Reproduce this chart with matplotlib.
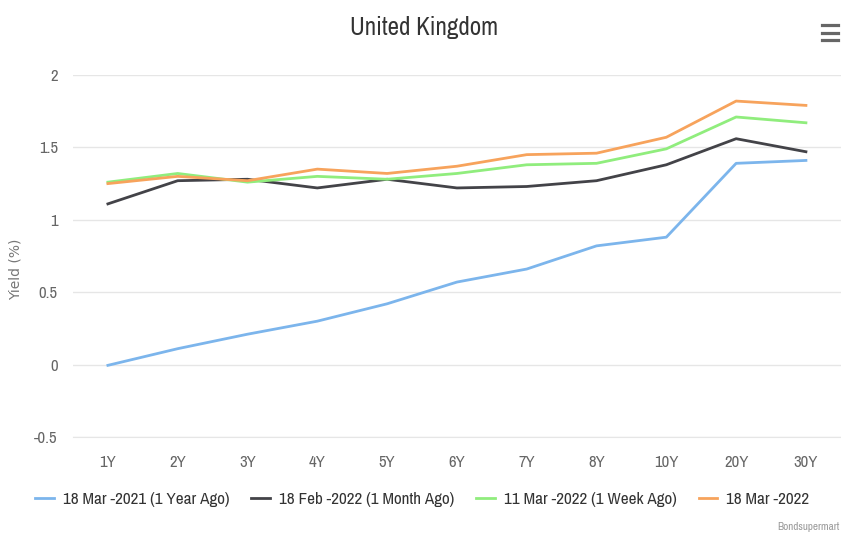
import matplotlib.pyplot as plt
from matplotlib.lines import Line2D
from matplotlib import font_manager

tenors = ['1Y', '2Y', '3Y', '4Y', '5Y', '6Y', '7Y', '8Y', '10Y', '20Y', '30Y']
mar_2021 = [-0.005, 0.11, 0.21, 0.30, 0.42, 0.57, 0.66, 0.82, 0.88, 1.39, 1.41]
feb_2022 = [1.11, 1.27, 1.28, 1.22, 1.28, 1.22, 1.23, 1.27, 1.38, 1.56, 1.47]
mar11_2022 = [1.26, 1.32, 1.26, 1.30, 1.28, 1.32, 1.38, 1.39, 1.49, 1.71, 1.67]
mar18_2022 = [1.25, 1.30, 1.27, 1.35, 1.32, 1.37, 1.45, 1.46, 1.57, 1.82, 1.79]
labels = ['18 Mar -2021 (1 Year Ago)', '18 Feb -2022 (1 Month Ago)',
          '11 Mar -2022 (1 Week Ago)', '18 Mar -2022']
colors = ['#7cb5ec', '#434348', '#90ed7d', '#f7a35c']

# look for a narrow font, the original uses a condensed face
names = sorted({f.name for f in font_manager.fontManager.ttflist})
narrow = [n for n in names if 'Narrow' in n or 'Condensed' in n]
if narrow:
    fam = [narrow[0], 'DejaVu Sans']
    scale = 1.0
else:
    fam = ['Roboto', 'DejaVu Sans']
    scale = 0.84

plt.rcParams['font.family'] = fam

fig = plt.figure(figsize=(8.41, 5.38), dpi=100)
ax = fig.add_axes([0.0868, 0.1877, 0.913, 0.6729])

x = range(len(tenors))
for ys, c, lab in zip([mar_2021, feb_2022, mar11_2022, mar18_2022], colors, labels):
    ax.plot(x, ys, color=c, linewidth=2, label=lab, solid_joinstyle='round')

ax.set_xlim(-0.5, len(tenors) - 0.5)
ax.set_ylim(-0.5, 2)
ax.set_yticks([-0.5, 0, 0.5, 1, 1.5, 2])
ax.set_yticklabels(['-0.5', '0', '0.5', '1', '1.5', '2'])
ax.set_xticks(list(x))
ax.set_xticklabels(tenors)
ax.grid(axis='y', color='#e6e6e6', linewidth=1)
ax.set_axisbelow(True)
for s in ['top', 'right', 'left']:
    ax.spines[s].set_visible(False)
ax.spines['bottom'].set_color('#e6e6e6')
ax.tick_params(length=0, colors='#666666', labelsize=12 * scale)
ax.tick_params(axis='x', pad=13)
ax.tick_params(axis='y', pad=11)

fig.text(0.019, 0.50, 'Yield (%)', rotation=90, ha='center', va='center',
         color='#777777', fontsize=10, family='DejaVu Sans')

fig.text(0.504, 0.948, 'United Kingdom', ha='center', va='center', fontsize=18 * scale,
         color='#333333')

handles = [Line2D([0], [0], color=c, linewidth=2) for c in colors]
leg = fig.legend(handles, labels, loc='center', bbox_to_anchor=(0.502, 0.072), ncol=4,
                 frameon=False, handlelength=1.1, handletextpad=0.5, columnspacing=1.3,
                 prop={'family': fam, 'weight': 'bold', 'size': 12.3 * scale})
for t in leg.get_texts():
    t.set_color('#333333')

fig.text(0.998, 0.012, 'Bondsupermart', ha='right', va='bottom', fontsize=8 * scale,
         color='#999999')

# menu icon
for yy in [0.9535, 0.9395, 0.9257]:
    fig.add_artist(Line2D([0.978, 0.997], [yy, yy], color='#666666', linewidth=2.3,
                          transform=fig.transFigure))

fig.savefig('out.png', dpi=100)
